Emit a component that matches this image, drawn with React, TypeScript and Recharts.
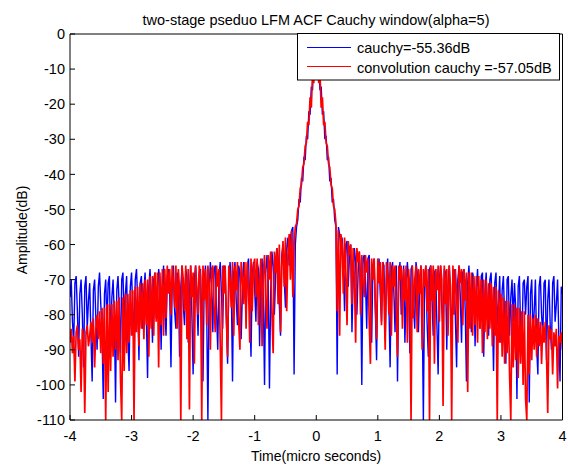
import React from 'react';
import { LineChart, Line, XAxis, YAxis } from 'recharts';

const TIME_US = [
  -4,-3.98,-3.96,-3.94,-3.92,-3.9,-3.88,-3.86,-3.84,-3.82,-3.8,-3.78,-3.76,-3.74,-3.72,-3.7,-3.68,-3.66,-3.64,-3.62,
  -3.6,-3.58,-3.56,-3.54,-3.52,-3.5,-3.48,-3.46,-3.44,-3.42,-3.4,-3.38,-3.36,-3.34,-3.32,-3.3,-3.28,-3.26,-3.24,-3.22,
  -3.2,-3.18,-3.16,-3.14,-3.12,-3.1,-3.08,-3.06,-3.04,-3.02,-3,-2.98,-2.96,-2.94,-2.92,-2.9,-2.88,-2.86,-2.84,-2.82,
  -2.8,-2.78,-2.76,-2.74,-2.72,-2.7,-2.68,-2.66,-2.64,-2.62,-2.6,-2.58,-2.56,-2.54,-2.52,-2.5,-2.48,-2.46,-2.44,-2.42,
  -2.4,-2.38,-2.36,-2.34,-2.32,-2.3,-2.28,-2.26,-2.24,-2.22,-2.2,-2.18,-2.16,-2.14,-2.12,-2.1,-2.08,-2.06,-2.04,-2.02,
  -2,-1.98,-1.96,-1.94,-1.92,-1.9,-1.88,-1.86,-1.84,-1.82,-1.8,-1.78,-1.76,-1.74,-1.72,-1.7,-1.68,-1.66,-1.64,-1.62,
  -1.6,-1.58,-1.56,-1.54,-1.52,-1.5,-1.48,-1.46,-1.44,-1.42,-1.4,-1.38,-1.36,-1.34,-1.32,-1.3,-1.28,-1.26,-1.24,-1.22,
  -1.2,-1.18,-1.16,-1.14,-1.12,-1.1,-1.08,-1.06,-1.04,-1.02,-1,-0.98,-0.96,-0.94,-0.92,-0.9,-0.88,-0.86,-0.84,-0.82,
  -0.8,-0.78,-0.76,-0.74,-0.72,-0.7,-0.68,-0.66,-0.64,-0.62,-0.6,-0.58,-0.56,-0.54,-0.52,-0.5,-0.48,-0.46,-0.44,-0.42,
  -0.4,-0.38,-0.36,-0.34,-0.32,-0.3,-0.28,-0.26,-0.24,-0.22,-0.2,-0.18,-0.16,-0.14,-0.12,-0.1,-0.08,-0.06,-0.04,-0.02,
  0,0.02,0.04,0.06,0.08,0.1,0.12,0.14,0.16,0.18,0.2,0.22,0.24,0.26,0.28,0.3,0.32,0.34,0.36,0.38,
  0.4,0.42,0.44,0.46,0.48,0.5,0.52,0.54,0.56,0.58,0.6,0.62,0.64,0.66,0.68,0.7,0.72,0.74,0.76,0.78,
  0.8,0.82,0.84,0.86,0.88,0.9,0.92,0.94,0.96,0.98,1,1.02,1.04,1.06,1.08,1.1,1.12,1.14,1.16,1.18,
  1.2,1.22,1.24,1.26,1.28,1.3,1.32,1.34,1.36,1.38,1.4,1.42,1.44,1.46,1.48,1.5,1.52,1.54,1.56,1.58,
  1.6,1.62,1.64,1.66,1.68,1.7,1.72,1.74,1.76,1.78,1.8,1.82,1.84,1.86,1.88,1.9,1.92,1.94,1.96,1.98,
  2,2.02,2.04,2.06,2.08,2.1,2.12,2.14,2.16,2.18,2.2,2.22,2.24,2.26,2.28,2.3,2.32,2.34,2.36,2.38,
  2.4,2.42,2.44,2.46,2.48,2.5,2.52,2.54,2.56,2.58,2.6,2.62,2.64,2.66,2.68,2.7,2.72,2.74,2.76,2.78,
  2.8,2.82,2.84,2.86,2.88,2.9,2.92,2.94,2.96,2.98,3,3.02,3.04,3.06,3.08,3.1,3.12,3.14,3.16,3.18,
  3.2,3.22,3.24,3.26,3.28,3.3,3.32,3.34,3.36,3.38,3.4,3.42,3.44,3.46,3.48,3.5,3.52,3.54,3.56,3.58,
  3.6,3.62,3.64,3.66,3.68,3.7,3.72,3.74,3.76,3.78,3.8,3.82,3.84,3.86,3.88,3.9,3.92,3.94,3.96,3.98,
  4,
];

const CAUCHY_DB = [
  -75,-70,-82,-88,-71,-69,-79,-92,-74,-70,
  -80,-95,-72,-69,-84,-76,-71,-86,-99,-73,
  -70,-81,-90,-72,-68,-77,-85,-104,-74,-70,
  -83,-71,-69,-88,-75,-70,-80,-105,-73,-69,
  -78,-91,-70,-68,-82,-74,-69,-87,-96,-72,
  -68,-79,-85,-70,-67,-76,-93,-71,-69,-84,
  -73,-68,-80,-98,-72,-67,-75,-88,-70,-68,
  -81,-76,-67,-70,-90,-73,-66,-78,-86,-69,
  -67,-74,-95,-71,-66,-79,-84,-68,-70,-92,
  -72,-66,-77,-83,-67,-69,-88,-74,-66,-80,
  -97,-70,-66,-75,-86,-68,-67,-82,-99,-71,
  -66,-78,-110,-73,-65,-72,-85,-67,-66,-79,
  -90,-69,-65,-74,-84,-66,-67,-81,-94,-70,
  -65,-72,-99,-68,-65,-76,-83,-66,-68,-87,
  -74,-65,-70,-80,-66,-64,-78,-92,-69,-65,
  -73,-82,-65,-67,-89,-71,-64,-75,-100,-68,
  -63,-70,-101,-74,-62,-66,-80,-69,-61,-64,
  -77,-86,-63,-60,-70,-78,-61,-58,-66,-58,
  -56,-55,-97,-60,-55,-53,-47,-48,-41,-42,
  -35,-36,-29,-30,-22,-23,-15,-16,-7,-5,
  0,
  -5,-7,-16,-15,-23,-22,-30,-29,-36,-35,
  -42,-41,-48,-47,-53,-55,-97,-55,-57,-62,
  -58,-66,-79,-60,-59,-72,-63,-60,-85,-70,
  -61,-65,-80,-68,-62,-70,-100,-64,-63,-71,
  -84,-64,-63,-76,-88,-66,-64,-79,-93,-68,
  -64,-74,-82,-65,-66,-87,-70,-64,-77,-95,
  -67,-65,-73,-85,-66,-99,-69,-65,-80,-72,
  -66,-88,-74,-65,-70,-91,-67,-66,-78,-84,
  -65,-68,-85,-72,-66,-76,-110,-70,-66,-82,
  -92,-67,-66,-75,-86,-68,-67,-83,-97,-70,
  -66,-78,-84,-67,-68,-90,-72,-66,-77,-86,
  -69,-67,-81,-95,-70,-66,-75,-88,-68,-67,
  -79,-99,-71,-66,-74,-85,-68,-70,-89,-73,
  -67,-77,-84,-69,-68,-92,-74,-68,-80,-86,
  -70,-68,-79,-96,-71,-68,-83,-77,-69,-88,
  -73,-69,-81,-94,-70,-69,-86,-75,-70,-82,
  -71,-78,-104,-72,-69,-84,-90,-71,-70,-80,
  -72,-69,-105,-74,-70,-85,-79,-70,-89,-97,
  -72,-69,-80,-86,-71,-70,-93,-76,-70,-83,
  -90,-71,-69,-82,-77,-70,-86,-99,-72,-74,
];

const CONV_CAUCHY_DB = [
  -88,-84,-91,-86,-99,-85,-83,-90,-87,-102,
  -84,-86,-108,-85,-83,-89,-86,-82,-88,-81,
  -95,-84,-80,-87,-79,-91,-78,-94,-78,-110,
  -77,-102,-77,-96,-77,-92,-76,-90,-76,-93,
  -75,-98,-110,-75,-96,-74,-91,-74,-88,-73,
  -86,-73,-110,-72,-85,-72,-89,-71,-84,-71,
  -87,-70,-83,-70,-92,-69,-84,-69,-86,-68,
  -82,-68,-95,-68,-83,-67,-86,-67,-81,-66,
  -74,-67,-80,-66,-71,-78,-66,-84,-67,-73,
  -110,-66,-70,-79,-66,-87,-67,-107,-66,-75,
  -68,-94,-66,-72,-80,-66,-69,-110,-66,-76,
  -67,-83,-66,-71,-90,-67,-66,-78,-85,-66,
  -72,-67,-88,-110,-66,-74,-66,-81,-92,-66,
  -70,-78,-65,-86,-66,-73,-65,-82,-90,-65,
  -69,-77,-65,-84,-65,-72,-88,-64,-79,-66,
  -64,-75,-64,-83,-70,-64,-89,-68,-63,-76,
  -84,-63,-70,-62,-80,-91,-62,-68,-61,-77,
  -60,-85,-66,-59,-72,-58,-79,-63,-57,-70,
  -56,-75,-60,-55,-54,-50,-49,-44,-43,-38,
  -37,-32,-31,-25,-26,-18,-21,-11,-14,-4,
  0,
  -4,-14,-11,-21,-18,-26,-25,-31,-32,-37,
  -38,-43,-44,-49,-50,-54,-79,-56,-86,-57,
  -60,-74,-58,-68,-83,-59,-63,-60,-77,-61,
  -70,-88,-61,-65,-62,-80,-63,-71,-75,-63,
  -68,-64,-82,-94,-64,-70,-64,-77,-87,-64,
  -71,-65,-83,-65,-74,-90,-65,-69,-80,-65,
  -86,-66,-72,-66,-79,-92,-66,-70,-66,-84,
  -67,-76,-66,-88,-67,-73,-110,-66,-81,-70,
  -66,-85,-67,-74,-66,-90,-67,-72,-66,-79,
  -67,-110,-66,-76,-66,-94,-67,-73,-66,-82,
  -66,-70,-106,-66,-77,-67,-86,-66,-72,-110,
  -66,-80,-67,-74,-88,-66,-71,-67,-83,-67,
  -76,-68,-102,-68,-84,-68,-86,-69,-83,-69,
  -88,-69,-84,-70,-91,-70,-85,-70,-87,-71,
  -84,-71,-89,-72,-86,-72,-110,-73,-88,-74,
  -92,-75,-94,-76,-91,-76,-97,-110,-77,-95,
  -77,-93,-78,-98,-78,-94,-79,-100,-79,-104,
  -110,-80,-97,-80,-93,-81,-90,-80,-92,-81,
  -89,-82,-94,-83,-88,-82,-91,-108,-83,-87,
  -84,-97,-85,-89,-84,-101,-86,-88,-85,-90,
];

const X_TICKS = [-4, -3, -2, -1, 0, 1, 2, 3, 4];
const Y_TICKS = [0, -10, -20, -30, -40, -50, -60, -70, -80, -90, -100, -110];

const TITLE = 'two-stage pseduo LFM ACF Cauchy window(alpha=5)';
const X_LABEL = 'Time(micro seconds)';
const Y_LABEL = 'Amplitude(dB)';
const LEGEND_CAUCHY = 'cauchy=-55.36dB';
const LEGEND_CONV = 'convolution cauchy =-57.05dB';

const rows = TIME_US.map((t, i) => ({ t, cauchy: CAUCHY_DB[i], conv: CONV_CAUCHY_DB[i] }));

const FONT = '"Liberation Sans", Arial, Helvetica, sans-serif';

export default function App() {
  const tickStyle = { fill: '#000', fontSize: 14.5, fontFamily: FONT };
  return (
    <div style={{ position: 'absolute', left: 0, top: 0, width: 568, height: 466, background: '#fff' }}>
      <LineChart width={568} height={466} data={rows} margin={{ top: 33, right: 4.5, bottom: 0, left: 0 }}>
        <XAxis
          xAxisId="b"
          dataKey="t"
          type="number"
          domain={[-4, 4]}
          ticks={X_TICKS}
          interval={0}
          allowDataOverflow
          height={46}
          tickSize={-5}
          tickMargin={16}
          axisLine={{ stroke: '#000', strokeWidth: 1 }}
          tickLine={{ stroke: '#000' }}
          tick={tickStyle}
        />
        <XAxis
          xAxisId="t"
          orientation="top"
          dataKey="t"
          type="number"
          domain={[-4, 4]}
          ticks={X_TICKS}
          interval={0}
          allowDataOverflow
          height={1}
          tickSize={-5}
          axisLine={{ stroke: '#000', strokeWidth: 1 }}
          tickLine={{ stroke: '#000' }}
          tick={false}
        />
        <YAxis
          yAxisId="l"
          type="number"
          domain={[-110, 0]}
          ticks={Y_TICKS}
          interval={0}
          allowDataOverflow
          width={70}
          tickSize={-5}
          tickMargin={10}
          axisLine={{ stroke: '#000', strokeWidth: 1 }}
          tickLine={{ stroke: '#000' }}
          tick={tickStyle}
        />
        <YAxis
          yAxisId="r"
          orientation="right"
          type="number"
          domain={[-110, 0]}
          ticks={Y_TICKS}
          interval={0}
          allowDataOverflow
          width={1}
          tickSize={-5}
          axisLine={{ stroke: '#000', strokeWidth: 1 }}
          tickLine={{ stroke: '#000' }}
          tick={false}
        />
        <Line
          xAxisId="b"
          yAxisId="l"
          dataKey="cauchy"
          stroke="#0000ff"
          strokeWidth={1.4}
          dot={false}
          activeDot={false}
          isAnimationActive={false}
        />
        <Line
          xAxisId="b"
          yAxisId="l"
          dataKey="conv"
          stroke="#ff0000"
          strokeWidth={1.7}
          dot={false}
          activeDot={false}
          isAnimationActive={false}
        />
      </LineChart>
      <svg
        width={568}
        height={466}
        style={{ position: 'absolute', left: 0, top: 0, pointerEvents: 'none' }}
        fontFamily={FONT}
      >
        <text x={316} y={25} textAnchor="middle" fontSize={14.5} fill="#000">{TITLE}</text>
        <text x={316} y={461} textAnchor="middle" fontSize={14} fill="#000">{X_LABEL}</text>
        <text transform="translate(27,230) rotate(-90)" textAnchor="middle" fontSize={14} fill="#000">{Y_LABEL}</text>
        <rect x={297.5} y={33.5} width={262} height={46.5} fill="#fff" stroke="#000" strokeWidth={1} />
        <line x1={307} x2={351} y1={47.5} y2={47.5} stroke="#0000ff" strokeWidth={1.2} />
        <line x1={307} x2={351} y1={66.5} y2={66.5} stroke="#ff0000" strokeWidth={1.2} />
        <text x={357} y={53} fontSize={14.5} fill="#000">{LEGEND_CAUCHY}</text>
        <text x={357} y={72.5} fontSize={14.5} fill="#000">{LEGEND_CONV}</text>
      </svg>
    </div>
  );
}
